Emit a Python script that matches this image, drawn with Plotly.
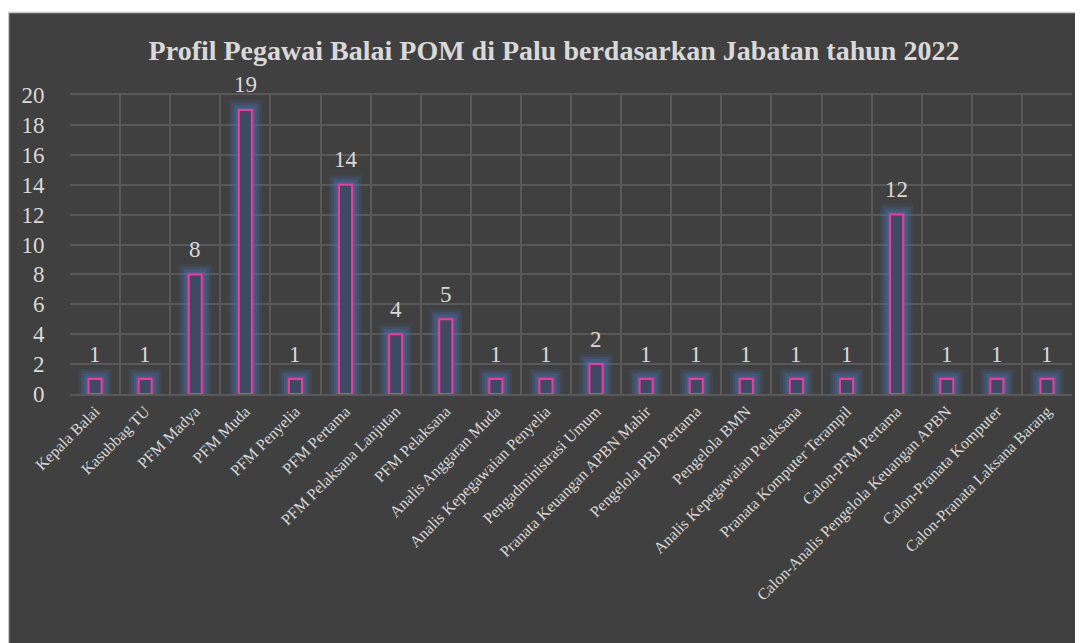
import plotly.graph_objects as go

categories = [
    "Kepala Balai", "Kasubbag TU", "PFM Madya", "PFM Muda", "PFM Penyelia",
    "PFM Pertama", "PFM Pelaksana Lanjutan", "PFM Pelaksana", "Analis Anggaran Muda",
    "Analis Kepegawaian Penyelia", "Pengadministrasi Umum", "Pranata Keuangan APBN Mahir",
    "Pengelola PBJ Pertama", "Pengelola BMN", "Analis Kepegawaian Pelaksana",
    "Pranata Komputer Terampil", "Calon-PFM Pertama", "Calon-Analis Pengelola Keuangan APBN",
    "Calon-Pranata Komputer", "Calon-Pranata Laksana Barang",
]
values = [1, 1, 8, 19, 1, 14, 4, 5, 1, 1, 2, 1, 1, 1, 1, 1, 12, 1, 1, 1]
y_ticks = list(range(0, 21, 2))
title_text = "Profil Pegawai Balai POM di Palu berdasarkan Jabatan tahun 2022"

OFF = 8  # page body margin
W, H = 1083 - OFF, 643 - OFF
ML, MR, MT, MB = 70 - OFF, 11, 95 - OFF, 249
PW, PH = W - ML - MR, H - MT - MB

FONT = "Liberation Serif"
TXT = "#d9d9d9"
BG = "#404040"
GRID = "#595959"

fig = go.Figure()

# glow layers
for lw, col in [(20, "rgba(70,110,165,0.16)"), (15, "rgba(70,110,165,0.24)"),
                (10, "rgba(70,110,165,0.34)"), (5, "rgba(70,110,165,0.45)")]:
    fig.add_trace(go.Bar(
        x=categories, y=values, width=0.26,
        marker=dict(color="rgba(0,0,0,0)", line=dict(color=col, width=lw)),
        hoverinfo="skip", showlegend=False,
    ))

fig.add_trace(go.Bar(
    x=categories, y=values, width=0.26,
    marker=dict(color="#3a4b63", line=dict(color="#ff3399", width=2)),
    showlegend=False,
))

for c, v in zip(categories, values):
    fig.add_annotation(x=c, y=v, text=str(v), showarrow=False, yanchor="middle",
                       yshift=25, font=dict(family=FONT, size=23, color=TXT))

def px_x(p):
    return (p - ML) / PW

def px_y(p):
    return (H - MB - p) / PH

shapes = [
    dict(type="rect", xref="paper", yref="paper", x0=px_x(-5), x1=px_x(W + 5),
         y0=px_y(4), y1=px_y(-5), fillcolor="white", line=dict(width=0), layer="above"),
    dict(type="line", xref="paper", yref="paper", x0=px_x(0), x1=px_x(W + 5),
         y0=px_y(4.5), y1=px_y(4.5), line=dict(color="#c8c8c8", width=1.5), layer="above"),
    dict(type="line", xref="paper", yref="paper", x0=px_x(0.5), x1=px_x(0.5),
         y0=px_y(4.5), y1=px_y(H + 5), line=dict(color="#c8c8c8", width=1.5), layer="above"),
]

fig.update_layout(
    width=W, height=H,
    margin=dict(l=ML, r=MR, t=MT, b=MB),
    paper_bgcolor=BG, plot_bgcolor=BG,
    barmode="overlay",
    title=dict(text="<b>" + title_text + "</b>", x=(554 - OFF) / W, xref="container",
               xanchor="center", y=1 - (50 - OFF) / H, yref="container", yanchor="middle",
               font=dict(family=FONT, size=28, color=TXT)),
    font=dict(family=FONT, color=TXT),
    shapes=shapes,
    xaxis=dict(type="category", range=[-0.5, len(categories) - 0.5], tickson="boundaries",
               showgrid=True, gridcolor=GRID, gridwidth=1.5, tickangle=-45,
               tickfont=dict(family=FONT, size=16, color=TXT), ticks="outside", ticklen=4,
               tickcolor="rgba(0,0,0,0)",
               showline=True, mirror=True, linecolor=GRID, linewidth=1.5),
    yaxis=dict(range=[0, 20], tickvals=y_ticks, showgrid=True, gridcolor=GRID, gridwidth=1.5,
               zeroline=False, ticks="outside", ticklen=20, tickcolor="rgba(0,0,0,0)",
               tickfont=dict(family=FONT, size=23, color=TXT)),
)

fig.write_html("out.html")
